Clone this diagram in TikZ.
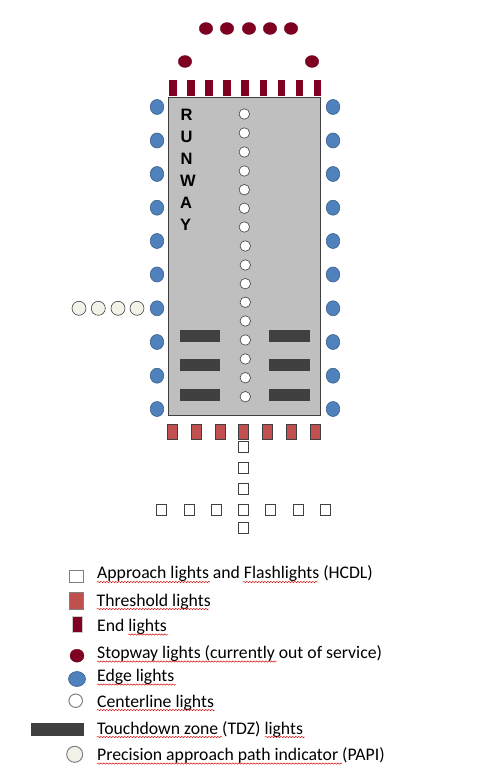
\documentclass[tikz,border=0pt]{standalone}
\usepackage{fontspec}
\setmainfont{Carlito}
\newfontfamily\arialfont{Liberation Sans}
\usetikzlibrary{shapes.geometric,decorations.pathmorphing}
\definecolor{stopred}{HTML}{7F0020}
\definecolor{threshred}{HTML}{C0504D}
\definecolor{edgeblue}{HTML}{4F81BD}
\definecolor{edgeline}{HTML}{3A5F8A}
\definecolor{rwgray}{HTML}{BFBFBF}
\definecolor{tdzgray}{HTML}{404040}
\definecolor{papifill}{HTML}{F2F2E8}
\tikzset{
  x=1pt,y=-1pt,
  lamp/.style={ellipse,inner sep=0pt,outer sep=0pt},
  stoplamp/.style={lamp,fill=stopred,draw=stopred!80!black,line width=.3pt,minimum width=13.5pt,minimum height=12pt},
  edgelamp/.style={lamp,fill=edgeblue,draw=edgeline,line width=.6pt,minimum width=13.5pt,minimum height=15pt},
  centerlamp/.style={lamp,fill=white,draw=tdzgray,line width=.6pt,minimum width=10.5pt,minimum height=10.5pt},
  papilamp/.style={lamp,fill=papifill,draw=tdzgray,line width=.6pt,minimum width=14pt,minimum height=14pt},
  box/.style={rectangle,inner sep=0pt,outer sep=0pt},
  endbar/.style={box,fill=stopred,line width=.3pt,minimum width=7.2pt,minimum height=16pt},
  threshbar/.style={box,fill=threshred,draw=tdzgray,line width=.5pt,minimum width=10pt,minimum height=14.5pt},
  approachbox/.style={box,fill=white,draw=tdzgray,line width=.6pt,minimum width=10.5pt,minimum height=10.5pt},
  tdzbar/.style={box,fill=tdzgray,minimum width=40pt,minimum height=12pt},
  rwletter/.style={font=\arialfont\bfseries\fontsize{16.5}{16.5}\selectfont,anchor=base west,inner sep=0pt,text=black},
  legendtext/.style={font=\fontsize{17.7}{17.7}\selectfont,anchor=base west,inner sep=0pt,text=black},
  spell/.style={draw=red!85!black,line width=.45pt,decorate,decoration={snake,amplitude=.7pt,segment length=3pt}}
}
\begin{document}
\begin{tikzpicture}
\useasboundingbox (0,0) rectangle (491,775);
% runway
\node[box,draw=tdzgray,fill=rwgray,line width=.8pt,minimum width=151.6pt,minimum height=318pt] (runway) at (244.5,256.3) {};
% stopway lights
\foreach \x [count=\i] in {206,227,249,270,291}
  \node[stoplamp] (stop\i) at (\x,28.5) {};
\node[stoplamp] (stopL) at (185,61.5) {};
\node[stoplamp] (stopR) at (312,61.5) {};
% end lights
\foreach \x [count=\i] in {173,191,209,227,245,263.3,281.3,299.3,317.3}
  \node[endbar] (end\i) at (\x,88) {};
% edge lights
\foreach \y [count=\i] in {107,140.5,174,207.7,241,274.5,308.3,342,375.7,409}{
  \node[edgelamp] (edgeL\i) at (157,\y) {};
  \node[edgelamp] (edgeR\i) at (333,\y) {};
}
% centerline lights
\foreach \y/\x [count=\i] in {114/244.3,133/244.3,152/244.3,171/244.3,189.7/244.3,208.3/244.3,227/244.3,246/245.3,265/245.3,283.7/245.3,302.3/245.3,321/245.3,340/245.3,359/245.3,377.7/245.3,396.7/245.3}
  \node[centerlamp] (center\i) at (\x,\y) {};
% PAPI
\foreach \x [count=\i] in {79,98.3,118,137}
  \node[papilamp] (papi\i) at (\x,308.3) {};
% TDZ
\foreach \y [count=\i] in {336,365,395}{
  \node[tdzbar] (tdzL\i) at (200,\y) {};
  \node[tdzbar,minimum width=41pt] (tdzR\i) at (289.5,\y) {};
}
% threshold lights
\foreach \x [count=\i] in {172.3,196.3,220.3,243.3,267.3,291.3,315.3}
  \node[threshbar] (thresh\i) at (\x,431.5) {};
% approach lights
\foreach \y [count=\i] in {446.7,468,489,510,528}
  \node[approachbox] (appV\i) at (243.3,\y) {};
\foreach \x [count=\i] in {161.3,189.3,216.3,270.3,298.3,325.3}
  \node[approachbox] (appH\i) at (\x,510) {};
% RUNWAY text
\foreach \l/\y/\x in {R/120.7/180.5,U/142.4/180.5,N/164.4/180.5,W/186.7/180,A/208.7/180,Y/230.7/180}
  \node[rwletter] (letter\l) at (\x,\y) {\l};
% legend symbols
\node[approachbox,line width=1pt,draw=gray,minimum width=14pt,minimum height=12pt] (legA) at (76.3,576) {};
\node[threshbar,draw=gray,minimum width=14pt,minimum height=16.3pt] (legT) at (76.3,600.8) {};
\node[endbar,draw=gray!40,line width=.6pt,minimum width=10pt,minimum height=16.3pt] (legE) at (77,624.5) {};
\node[stoplamp,minimum width=14pt,minimum height=13pt] (legS) at (77,655.7) {};
\node[edgelamp,minimum width=17pt,minimum height=15pt] (legG) at (77,679) {};
\node[centerlamp,line width=1pt,draw=gray,minimum width=13.5pt,minimum height=13.5pt] (legC) at (75.7,700.7) {};
\node[tdzbar,minimum width=53.3pt,minimum height=12.7pt] (legD) at (57.7,729.7) {};
\node[papilamp,line width=1pt,draw=gray,minimum width=16pt,minimum height=16pt] (legP) at (74.7,754.3) {};
% legend text
\node[legendtext] (txtA) at (97,578.5) {Approach lights and Flashlights (HCDL)};
\node[legendtext] (txtT) at (96.5,606) {Threshold lights};
\node[legendtext] (txtE) at (97,631) {End lights};
\node[legendtext] (txtS) at (97,658.7) {Stopway lights (currently out of service)};
\node[legendtext] (txtG) at (97,681) {Edge lights};
\node[legendtext] (txtC) at (97,707) {Centerline lights};
\node[legendtext] (txtD) at (97,734) {Touchdown zone (TDZ) lights};
\node[legendtext] (txtP) at (97,760) {Precision approach path indicator (PAPI)};
% spell-check underlines
\foreach \a/\b/\y in {97/210/582,243/318/582,97/209/609,128/168/634.5,97/277/661.5,97/176/684.5,97/215/710,97/222/737,265/305/737,97/342/763.5}
  \draw[spell] (\a,\y) -- (\b,\y);
\end{tikzpicture}
\end{document}
